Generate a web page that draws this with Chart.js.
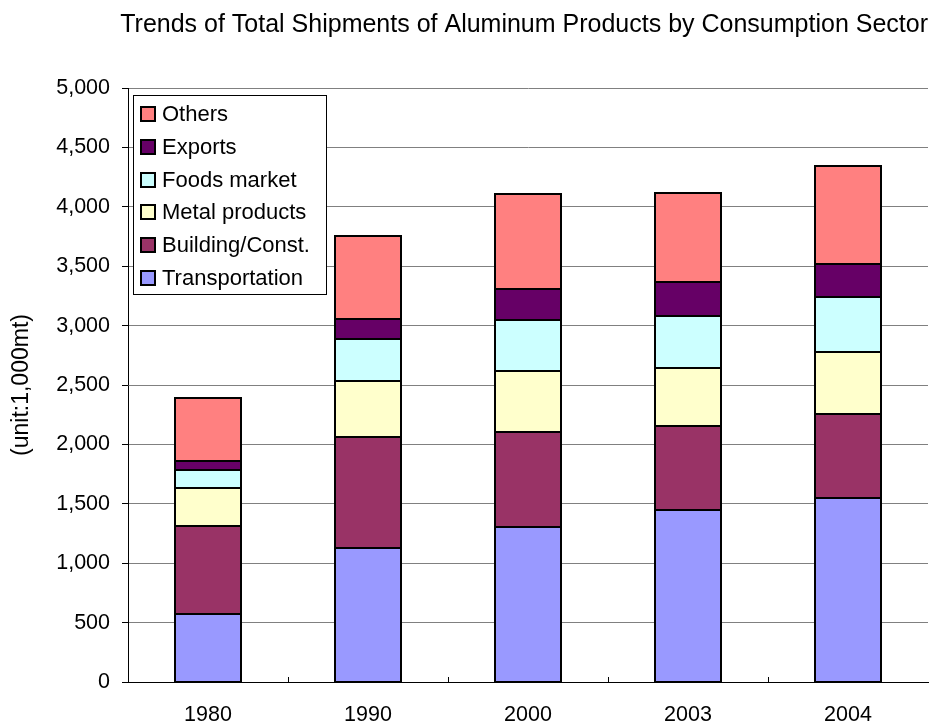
<!DOCTYPE html>
<html>
<head>
<meta charset="utf-8">
<script src="https://cdn.jsdelivr.net/npm/chart.js@4/dist/chart.umd.min.js"></script>
<style>
  html, body { margin: 0; padding: 0; background: #fff; }
  #wrap { width: 930px; height: 724px; }
</style>
</head>
<body>
<div id="wrap"><canvas id="shipChart" width="930" height="724"></canvas></div>
<script>
// categories and stacked series (unit: 1,000 mt)
const years = ["1980", "1990", "2000", "2003", "2004"];
const transportation = [573, 1124, 1306, 1448, 1547];
const building = [736, 936, 802, 707, 708];
const metalProducts = [326, 476, 509, 491, 520];
const foodsMarket = [146, 349, 433, 436, 467];
const exportsData = [76, 173, 260, 289, 280];
const others = [531, 693, 799, 744, 819];
const yTicks = [0, 500, 1000, 1500, 2000, 2500, 3000, 3500, 4000, 4500, 5000];

const FONT = "'Liberation Sans', Arial, sans-serif";

function ds(label, data, color) {
    return {
        label: label,
        data: data,
        backgroundColor: color,
        borderWidth: 0,
        barPercentage: 0.41,
        categoryPercentage: 1.0
    };
}

// black 2px outline round every segment (uniform, like the original)
const outlinePlugin = {
    id: "segOutline",
    afterDatasetsDraw(chart) {
        const ctx = chart.ctx;
        ctx.save();
        ctx.strokeStyle = "#000";
        ctx.lineWidth = 2;
        chart.data.datasets.forEach((d, i) => {
            chart.getDatasetMeta(i).data.forEach(bar => {
                const left = Math.round(bar.x - bar.width / 2);
                const right = Math.round(bar.x + bar.width / 2);
                const top = Math.round(bar.y);
                const bottom = Math.round(bar.base);
                ctx.strokeRect(left, top, right - left, bottom - top);
            });
        });
        ctx.restore();
    }
};

// small upward ticks between categories on the x axis
const xTickPlugin = {
    id: "xBetweenTicks",
    afterDatasetsDraw(chart) {
        const x = chart.scales.x;
        const ctx = chart.ctx;
        ctx.save();
        ctx.strokeStyle = "#000";
        ctx.lineWidth = 1;
        for (let i = 1; i < years.length; i++) {
            const px = Math.round((x.getPixelForValue(i - 1) + x.getPixelForValue(i)) / 2) + 0.5;
            ctx.beginPath();
            ctx.moveTo(px, x.top);
            ctx.lineTo(px, x.top - 5);
            ctx.stroke();
        }
        ctx.restore();
    }
};

// legend box drawn inside the plot, top-left, reversed order like the original
const boxLegend = {
    id: "boxLegend",
    afterDraw(chart) {
        const ctx = chart.ctx;
        const area = chart.chartArea;
        const left = area.left + 5, top = area.top + 7;
        const w = 193, h = 199, rowH = 32.8;
        ctx.save();
        ctx.fillStyle = "#fff";
        ctx.fillRect(left, top, w, h);
        ctx.strokeStyle = "#000";
        ctx.lineWidth = 1;
        ctx.strokeRect(left + 0.5, top + 0.5, w, h);
        ctx.font = "22px " + FONT;
        ctx.textBaseline = "middle";
        const items = chart.data.datasets.slice().reverse();
        items.forEach((d, i) => {
            const cy = Math.round(top + 19 + i * rowH);
            ctx.fillStyle = d.backgroundColor;
            ctx.fillRect(left + 8, cy - 7, 14, 14);
            ctx.lineWidth = 2;
            ctx.strokeRect(left + 8, cy - 7, 14, 14);
            ctx.fillStyle = "#000";
            ctx.fillText(d.label, left + 29, cy + 1);
        });
        ctx.restore();
    }
};

const ctx = document.getElementById("shipChart").getContext("2d");
new Chart(ctx, {
    type: "bar",
    data: {
        labels: years,
        datasets: [
            ds("Transportation", transportation, "#9999FF"),
            ds("Building/Const.", building, "#993366"),
            ds("Metal products", metalProducts, "#FFFFCC"),
            ds("Foods market", foodsMarket, "#CCFFFF"),
            ds("Exports", exportsData, "#660066"),
            ds("Others", others, "#FF8080")
        ]
    },
    options: {
        responsive: false,
        animation: false,
        layout: { padding: { left: 0, right: 2, top: 0, bottom: 0 } },
        scales: {
            x: {
                stacked: true,
                afterFit: s => { s.height = 42; },
                grid: { display: false, drawTicks: false },
                border: { color: "#000", width: 1 },
                ticks: { color: "#000", padding: 20, font: { family: FONT, size: 21.5 } }
            },
            y: {
                stacked: true,
                min: 0,
                max: 5000,
                afterFit: s => { s.width = 128; },
                afterBuildTicks: s => { s.ticks = yTicks.map(v => ({ value: v })); },
                grid: { color: "#808080", tickColor: "#000", tickLength: 6 },
                border: { color: "#000", width: 1 },
                ticks: {
                    color: "#000",
                    padding: 12,
                    font: { family: FONT, size: 21.5 },
                    callback: v => v.toLocaleString("en-US")
                },
                title: {
                    display: true,
                    text: "(unit:1,000mt)",
                    color: "#000",
                    padding: { top: 8, bottom: 0 },
                    font: { family: FONT, size: 23 }
                }
            }
        },
        plugins: {
            legend: { display: false },
            tooltip: { enabled: false },
            title: {
                display: true,
                text: "Trends of Total Shipments of Aluminum Products by Consumption Sector",
                align: "end",
                color: "#000",
                padding: { top: 10, bottom: 48 },
                font: { family: FONT, size: 25, weight: "normal" }
            }
        }
    },
    plugins: [outlinePlugin, xTickPlugin, boxLegend]
});
</script>
</body>
</html>
